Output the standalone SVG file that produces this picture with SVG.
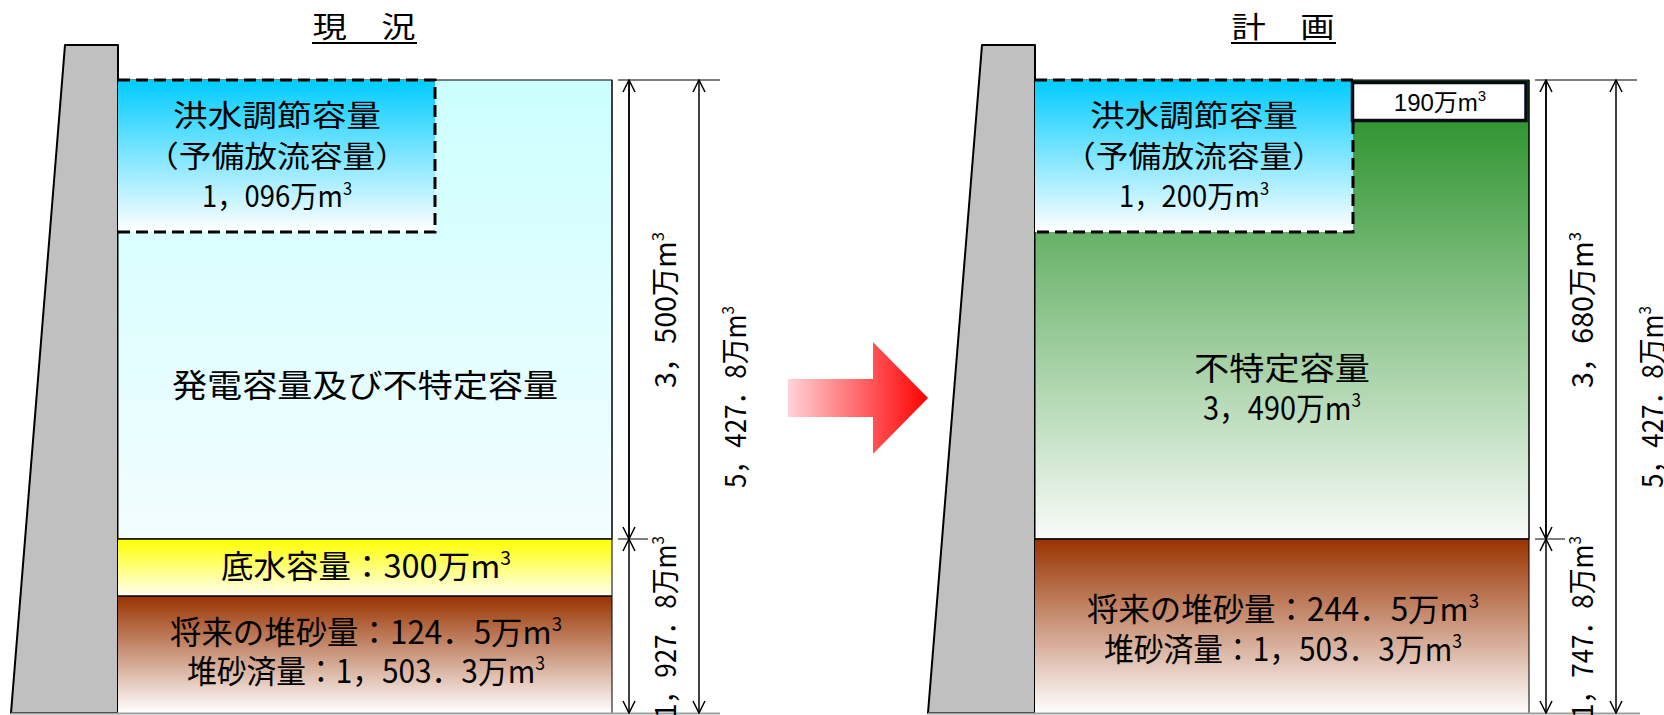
<svg xmlns="http://www.w3.org/2000/svg" width="1664" height="715" viewBox="0 0 1664 715">
<style>
.t{font-family:"Noto Sans CJK JP","Noto Sans CJK SC",sans-serif;fill:#000}
.ttl{font-size:29px}
.f{font-size:30px}
.m{font-size:32px}
.d{font-size:29px}
.dam{fill:#c0c0c0;stroke:#000;stroke-width:2;stroke-linejoin:round}
.sep{stroke:#000;stroke-width:1.5}
.dash{fill:none;stroke:#000;stroke-width:3;stroke-dasharray:12 6}
.dim{stroke:#000;stroke-width:1.5;fill:none}
.ext{stroke:#000;stroke-width:1}
.gnd{stroke:#a0a0a0;stroke-width:2}
</style>
<defs>
<linearGradient id="gFlood" x1="0" y1="0" x2="0" y2="1"><stop offset="0" stop-color="#00ccff"/><stop offset="1" stop-color="#ffffff"/></linearGradient>
<linearGradient id="gCyan" x1="0" y1="0" x2="0" y2="1"><stop offset="0" stop-color="#ccffff"/><stop offset="1" stop-color="#f3fdff"/></linearGradient>
<linearGradient id="gYel" x1="0" y1="0" x2="0" y2="1"><stop offset="0" stop-color="#ffff00"/><stop offset="1" stop-color="#fffff2"/></linearGradient>
<linearGradient id="gBrown" x1="0" y1="0" x2="0" y2="1"><stop offset="0" stop-color="#993300"/><stop offset="1" stop-color="#ffffff"/></linearGradient>
<linearGradient id="gGreen" x1="0" y1="0" x2="0" y2="1"><stop offset="0" stop-color="#1e8c1e"/><stop offset="1" stop-color="#f8fbf8"/></linearGradient>
<linearGradient id="gArrow" gradientUnits="userSpaceOnUse" x1="788" y1="0" x2="928" y2="0"><stop offset="0" stop-color="#ffd3d8"/><stop offset="1" stop-color="#ff0000"/></linearGradient>
<marker id="open" viewBox="0 0 14 14" refX="13" refY="7" markerWidth="14" markerHeight="14" markerUnits="userSpaceOnUse" orient="auto-start-reverse"><path d="M1,1 L13,7 L1,13" fill="none" stroke="#000" stroke-width="1.5"/></marker>
</defs>

<!-- LEFT: current -->
<g id="title-current"><text class="t ttl" x="364" y="38" text-anchor="middle" textLength="103" lengthAdjust="spacingAndGlyphs">現　況</text><line x1="312" y1="43" x2="417" y2="43" stroke="#000" stroke-width="2"/></g>
<g id="dam-current"><polygon class="dam" points="65,45 118,45 118,713 11,713"/></g>
<g id="power-current"><rect x="118" y="80" width="494" height="459" fill="url(#gCyan)" stroke="#000" stroke-width="1"/>
<text class="t m" x="365" y="397" text-anchor="middle" textLength="386" lengthAdjust="spacingAndGlyphs">発電容量及び不特定容量</text></g>
<g id="flood-current"><rect x="118" y="80" width="317" height="152" fill="url(#gFlood)"/><path class="dash" d="M118,80 H435 V232 H118"/>
<text class="t f" x="277" y="126" text-anchor="middle" textLength="208" lengthAdjust="spacingAndGlyphs">洪水調節容量</text>
<text class="t f" x="277" y="167" text-anchor="middle" textLength="262" lengthAdjust="spacingAndGlyphs">（予備放流容量）</text>
<text class="t f" x="277" y="207" text-anchor="middle" textLength="150" lengthAdjust="spacingAndGlyphs">1，096万m<tspan font-size="18" dy="-12">3</tspan></text></g>
<g id="dead-current"><rect x="118" y="539" width="494" height="57" fill="url(#gYel)"/><line class="sep" x1="118" y1="539" x2="612" y2="539"/>
<text class="t m" x="366" y="578" text-anchor="middle" textLength="290" lengthAdjust="spacingAndGlyphs">底水容量：300万m<tspan font-size="19" dy="-13">3</tspan></text></g>
<g id="sed-current"><rect x="118" y="596" width="494" height="117" fill="url(#gBrown)"/><line class="sep" x1="118" y1="596" x2="612" y2="596"/><line x1="612" y1="80" x2="612" y2="713" stroke="#000" stroke-width="1"/>
<text class="t m" x="366" y="644" text-anchor="middle" textLength="392" lengthAdjust="spacingAndGlyphs">将来の堆砂量：124．5万m<tspan font-size="19" dy="-13">3</tspan></text>
<text class="t m" x="366" y="683" text-anchor="middle" textLength="358" lengthAdjust="spacingAndGlyphs">堆砂済量：1，503．3万m<tspan font-size="19" dy="-13">3</tspan></text></g>

<!-- RIGHT: plan -->
<g id="title-plan"><text class="t ttl" x="1283" y="38" text-anchor="middle" textLength="103" lengthAdjust="spacingAndGlyphs">計　画</text><line x1="1231" y1="43" x2="1336" y2="43" stroke="#000" stroke-width="2"/></g>
<g id="dam-plan"><polygon class="dam" points="982,45 1035,45 1035,713 928,713"/></g>
<g id="unspec-plan"><rect x="1035" y="80" width="494" height="459" fill="url(#gGreen)" stroke="#000" stroke-width="1"/>
<text class="t m" x="1282" y="380" text-anchor="middle" textLength="176" lengthAdjust="spacingAndGlyphs">不特定容量</text>
<text class="t m" x="1282" y="420" text-anchor="middle" textLength="158" lengthAdjust="spacingAndGlyphs">3，490万m<tspan font-size="19" dy="-13">3</tspan></text></g>
<g id="flood-plan"><rect x="1035" y="80" width="318" height="152" fill="url(#gFlood)"/><path class="dash" d="M1035,80 H1353 V232 H1035"/>
<text class="t f" x="1194" y="126" text-anchor="middle" textLength="208" lengthAdjust="spacingAndGlyphs">洪水調節容量</text>
<text class="t f" x="1194" y="167" text-anchor="middle" textLength="262" lengthAdjust="spacingAndGlyphs">（予備放流容量）</text>
<text class="t f" x="1194" y="207" text-anchor="middle" textLength="150" lengthAdjust="spacingAndGlyphs">1，200万m<tspan font-size="18" dy="-12">3</tspan></text></g>
<g id="extra-plan"><rect x="1352.5" y="82.5" width="173.5" height="38" fill="#fff" stroke="#0a0a14" stroke-width="3.5"/>
<text x="1440" y="111" text-anchor="middle" font-family="'Liberation Sans','Noto Sans CJK JP',sans-serif" font-size="24">190万m<tspan font-size="15" dy="-10">3</tspan></text></g>
<g id="sed-plan"><rect x="1035" y="539" width="494" height="174" fill="url(#gBrown)"/><line class="sep" x1="1035" y1="539" x2="1529" y2="539"/><line x1="1529" y1="80" x2="1529" y2="713" stroke="#000" stroke-width="1"/>
<text class="t m" x="1283" y="621" text-anchor="middle" textLength="392" lengthAdjust="spacingAndGlyphs">将来の堆砂量：244．5万m<tspan font-size="19" dy="-13">3</tspan></text>
<text class="t m" x="1283" y="661" text-anchor="middle" textLength="358" lengthAdjust="spacingAndGlyphs">堆砂済量：1，503．3万m<tspan font-size="19" dy="-13">3</tspan></text></g>

<!-- transition arrow -->
<g id="arrow-transition"><polygon points="788,379 873,379 873,342 928,398 873,454 873,417 788,417" fill="url(#gArrow)"/></g>

<!-- dimension connectors -->
<g id="connectors">
<line class="gnd" x1="11" y1="713.5" x2="720" y2="713.5"/>
<line class="gnd" x1="928" y1="713.5" x2="1640" y2="713.5"/>
<line class="ext" x1="618" y1="80" x2="720" y2="80"/>
<line class="ext" x1="618" y1="539" x2="648" y2="539"/>
<line class="dim" x1="629" y1="539" x2="629" y2="80" marker-end="url(#open)"/>
<line class="dim" x1="629" y1="80" x2="629" y2="539" marker-end="url(#open)"/>
<line class="dim" x1="629" y1="539" x2="629" y2="713" marker-start="url(#open)" marker-end="url(#open)"/>
<line class="dim" x1="699" y1="80" x2="699" y2="713" marker-start="url(#open)" marker-end="url(#open)"/>
<line class="ext" x1="1535" y1="80" x2="1637" y2="80"/>
<line class="ext" x1="1535" y1="539" x2="1565" y2="539"/>
<line class="dim" x1="1546" y1="539" x2="1546" y2="80" marker-end="url(#open)"/>
<line class="dim" x1="1546" y1="80" x2="1546" y2="539" marker-end="url(#open)"/>
<line class="dim" x1="1546" y1="539" x2="1546" y2="713" marker-start="url(#open)" marker-end="url(#open)"/>
<line class="dim" x1="1616" y1="80" x2="1616" y2="713" marker-start="url(#open)" marker-end="url(#open)"/>
</g>
<g id="dim-labels">
<text class="t d" transform="translate(676,310) rotate(-90)" text-anchor="middle" textLength="156" lengthAdjust="spacingAndGlyphs">3，500万m<tspan font-size="17" dy="-12">3</tspan></text>
<text class="t d" transform="translate(676,627) rotate(-90)" text-anchor="middle" textLength="182" lengthAdjust="spacingAndGlyphs">1，927．8万m<tspan font-size="17" dy="-12">3</tspan></text>
<text class="t d" transform="translate(746,397) rotate(-90)" text-anchor="middle" textLength="182" lengthAdjust="spacingAndGlyphs">5，427．8万m<tspan font-size="17" dy="-12">3</tspan></text>
<text class="t d" transform="translate(1593,310) rotate(-90)" text-anchor="middle" textLength="156" lengthAdjust="spacingAndGlyphs">3，680万m<tspan font-size="17" dy="-12">3</tspan></text>
<text class="t d" transform="translate(1593,627) rotate(-90)" text-anchor="middle" textLength="182" lengthAdjust="spacingAndGlyphs">1，747．8万m<tspan font-size="17" dy="-12">3</tspan></text>
<text class="t d" transform="translate(1663,397) rotate(-90)" text-anchor="middle" textLength="182" lengthAdjust="spacingAndGlyphs">5，427．8万m<tspan font-size="17" dy="-12">3</tspan></text>
</g>
</svg>
